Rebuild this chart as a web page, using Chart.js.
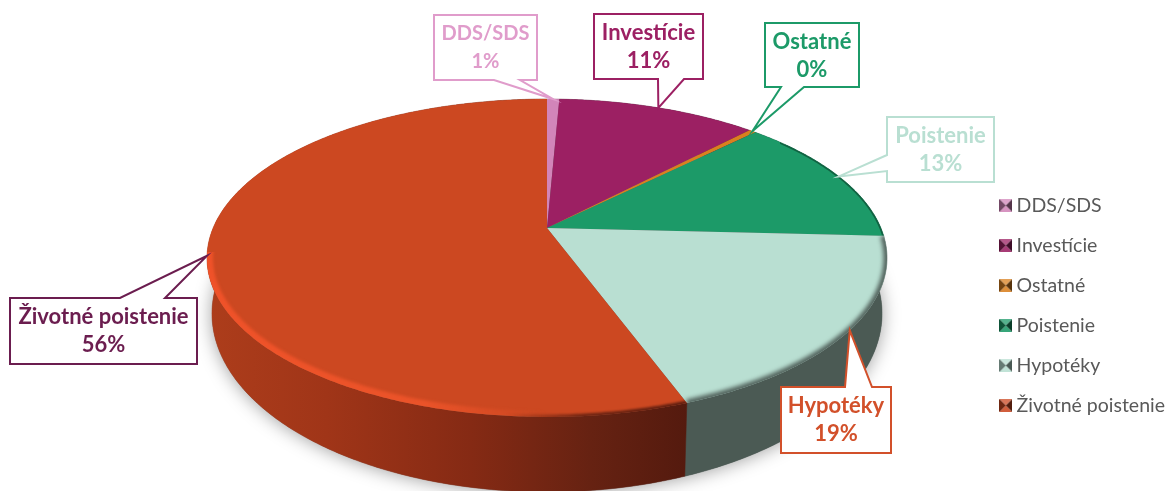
<!DOCTYPE html>
<html>
<head>
<meta charset="utf-8">
<style>
  html, body { margin: 0; padding: 0; background: #fff; }
  canvas { display: block; }
</style>
<script src="https://cdn.jsdelivr.net/npm/chart.js@4"></script>
</head>
<body>
<canvas id="pieChart" width="1167" height="491"></canvas>
<script>
const categories = ['DDS/SDS', 'Investície', 'Ostatné', 'Poistenie', 'Hypotéky', 'Životné poistenie'];
const shares = [0.7, 11.4, 0.4, 13.3, 18.6, 55.6];
const sliceColors = ['#d285b9', '#9c2063', '#d9801f', '#1c9a68', '#b9dfd2', '#cc4821'];
const sideColors = ['#8a4f74', '#5e123a', '#7d4a12', '#0f5e3f', '#4b5a54', '#a83b1a'];

// callout boxes, same order as categories
const boxes = [
  { x: 434, y: 15, w: 103, h: 65, line: '#e09ccb', size: 20, side: 'bottom', a: 494, b: 520 },
  { x: 594, y: 14, w: 109, h: 65, line: '#9c2063', size: 22, side: 'bottom', a: 658, b: 684 },
  { x: 765, y: 23, w: 94, h: 64, line: '#1c9a68', size: 22, side: 'bottom', a: 781, b: 804 },
  { x: 887, y: 117, w: 107, h: 65, line: '#b9dfd2', size: 22, side: 'left', a: 155, b: 171 },
  { x: 781, y: 387, w: 110, h: 66, line: '#d2502a', size: 22, side: 'top', a: 845, b: 872 },
  { x: 10, y: 298, w: 187, h: 66, line: '#6b1d4f', size: 22, side: 'top', a: 120, b: 165 }
];

// the pie is tipped back, near side is bigger than far side
const tilt = 0.1887;
const topFace = { cx: 547, cy: 228, a: 333.9, b: 153.3 };
const baseFace = { cx: 547, cy: 280, a: 329, b: 172 };

function project(face, angle) {
  const u = Math.cos(angle), v = Math.sin(angle);
  const w = 1 - tilt * v;
  return { x: face.cx + face.a * u / w, y: face.cy + face.b * v / w };
}

function tracePath(ctx, face, from, to, first) {
  const steps = Math.max(2, Math.ceil(Math.abs(to - from) / 0.01));
  for (let i = 0; i <= steps; i++) {
    const p = project(face, from + (to - from) * i / steps);
    if (i === 0 && first) ctx.moveTo(p.x, p.y);
    else ctx.lineTo(p.x, p.y);
  }
}

function sidePaint(ctx, i) {
  if (i !== 5) return sideColors[i];
  const g = ctx.createLinearGradient(207, 0, 688, 0);
  g.addColorStop(0, '#ad3d1b');
  g.addColorStop(0.25, '#a03518');
  g.addColorStop(0.55, '#852a14');
  g.addColorStop(0.8, '#662212');
  g.addColorStop(1, '#541a0e');
  return g;
}

function calloutPath(ctx, box, tip) {
  const r = box.x + box.w, d = box.y + box.h;
  ctx.beginPath();
  ctx.moveTo(box.x, box.y);
  if (box.side === 'top') { ctx.lineTo(box.a, box.y); ctx.lineTo(tip.x, tip.y); ctx.lineTo(box.b, box.y); }
  ctx.lineTo(r, box.y);
  ctx.lineTo(r, d);
  if (box.side === 'bottom') { ctx.lineTo(box.b, d); ctx.lineTo(tip.x, tip.y); ctx.lineTo(box.a, d); }
  ctx.lineTo(box.x, d);
  if (box.side === 'left') { ctx.lineTo(box.x, box.b); ctx.lineTo(tip.x, tip.y); ctx.lineTo(box.x, box.a); }
  ctx.closePath();
}

const tiltedPie = {
  id: 'tiltedPie',
  beforeDatasetsDraw(chart) {
    const ctx = chart.ctx;
    const arcs = chart.getDatasetMeta(0).data;
    const start = arcs[0].startAngle;

    // soft shadow under the disc
    ctx.save();
    ctx.shadowColor = 'rgba(0,0,0,0.38)';
    ctx.shadowBlur = 18;
    ctx.shadowOffsetY = 1;
    ctx.fillStyle = '#666';
    ctx.beginPath();
    tracePath(ctx, baseFace, start, start + Math.PI * 2, true);
    ctx.closePath();
    ctx.fill();
    ctx.restore();

    // side wall
    arcs.forEach((arc, i) => {
      ctx.beginPath();
      tracePath(ctx, topFace, arc.startAngle, arc.endAngle, true);
      tracePath(ctx, baseFace, arc.endAngle, arc.startAngle, false);
      ctx.closePath();
      ctx.fillStyle = sidePaint(ctx, i);
      ctx.fill();
      ctx.strokeStyle = sidePaint(ctx, i);
      ctx.lineWidth = 0.5;
      ctx.stroke();
    });

    // top face
    arcs.forEach((arc, i) => {
      ctx.save();
      ctx.beginPath();
      ctx.moveTo(topFace.cx, topFace.cy);
      tracePath(ctx, topFace, arc.startAngle, arc.endAngle, false);
      ctx.closePath();
      ctx.fillStyle = sliceColors[i];
      ctx.fill();
      ctx.clip();

      // bevel along the rim
      const rim = (color, width, blur) => {
        ctx.save();
        ctx.filter = 'blur(' + blur + 'px)';
        ctx.beginPath();
        tracePath(ctx, topFace, arc.startAngle, arc.endAngle, true);
        ctx.strokeStyle = color;
        ctx.lineWidth = width;
        ctx.stroke();
        ctx.restore();
      };
      if (i === 5) {
        const dark = ctx.createLinearGradient(207, 0, 690, 0);
        dark.addColorStop(0.62, 'rgba(84,26,14,0)');
        dark.addColorStop(0.78, 'rgba(84,26,14,0.75)');
        dark.addColorStop(1, 'rgba(84,26,14,0.9)');
        const glow = ctx.createLinearGradient(207, 0, 690, 0);
        glow.addColorStop(0, '#ef5229');
        glow.addColorStop(0.45, '#ea5329');
        glow.addColorStop(0.7, 'rgba(230,80,40,0)');
        ctx.save();
        ctx.beginPath();
        ctx.rect(0, 252, 700, 239);
        ctx.clip();
        rim(glow, 12, 1.5);
        rim(dark, 5, 1.2);
        ctx.restore();
      } else if (i === 4) {
        rim('rgba(75,90,84,0.95)', 7, 2);
      } else if (i === 3) {
        ctx.save();
        ctx.beginPath();
        ctx.rect(780, 0, 200, 491);
        ctx.clip();
        rim('rgba(10,60,40,0.6)', 3, 0.6);
        ctx.restore();
      }
      ctx.restore();
    });
    return false;
  },
  afterDraw(chart) {
    const ctx = chart.ctx;
    const arcs = chart.getDatasetMeta(0).data;
    arcs.forEach((arc, i) => {
      const box = boxes[i];
      const tip = project(topFace, (arc.startAngle + arc.endAngle) / 2);
      ctx.save();
      calloutPath(ctx, box, tip);
      ctx.fillStyle = '#fff';
      ctx.fill();
      ctx.strokeStyle = box.line;
      ctx.lineWidth = 2;
      ctx.stroke();
      ctx.fillStyle = box.line;
      ctx.font = 'bold ' + box.size + 'px Lato';
      ctx.textAlign = 'center';
      ctx.textBaseline = 'middle';
      const mid = box.x + box.w / 2;
      ctx.fillText(categories[i], mid, box.y + 19);
      ctx.fillText(Math.round(shares[i]) + '%', mid, box.y + 47);
      ctx.restore();
    });
  }
};

function shade(hex, f) {
  const n = parseInt(hex.slice(1), 16);
  const c = [n >> 16, (n >> 8) & 255, n & 255].map(v =>
    Math.round(f < 0 ? v * (1 + f) : v + (255 - v) * f));
  return 'rgb(' + c.join(',') + ')';
}

// little pyramid square for the legend
function legendIcon(color) {
  const s = 13;
  const c = document.createElement('canvas');
  c.width = s;
  c.height = s;
  const g = c.getContext('2d');
  const tri = (x1, y1, x2, y2, fill) => {
    g.beginPath();
    g.moveTo(x1, y1);
    g.lineTo(x2, y2);
    g.lineTo(s / 2, s / 2);
    g.closePath();
    g.fillStyle = fill;
    g.fill();
  };
  tri(0, 0, s, 0, shade(color, 0.25));
  tri(0, s, s, s, shade(color, 0.12));
  tri(0, 0, 0, s, shade(color, -0.45));
  tri(s, 0, s, s, shade(color, -0.6));
  return c;
}

new Chart(document.getElementById('pieChart'), {
  type: 'pie',
  data: {
    labels: categories,
    datasets: [{ data: shares, backgroundColor: sliceColors, borderWidth: 0 }]
  },
  options: {
    responsive: false,
    animation: false,
    layout: { padding: { top: 120, right: -8 } },
    plugins: {
      tooltip: { enabled: false },
      legend: {
        position: 'right',
        fullSize: false,
        labels: {
          usePointStyle: true,
          pointStyleWidth: 2,
          padding: 20.5,
          font: { family: 'Lato', size: 19.5 },
          generateLabels: () => categories.map((name, i) => ({
            text: name,
            fontColor: '#595959',
            fillStyle: sliceColors[i],
            strokeStyle: sliceColors[i],
            lineWidth: 0,
            pointStyle: legendIcon(sliceColors[i]),
            index: i
          }))
        }
      }
    }
  },
  plugins: [tiltedPie]
});
</script>
</body>
</html>
